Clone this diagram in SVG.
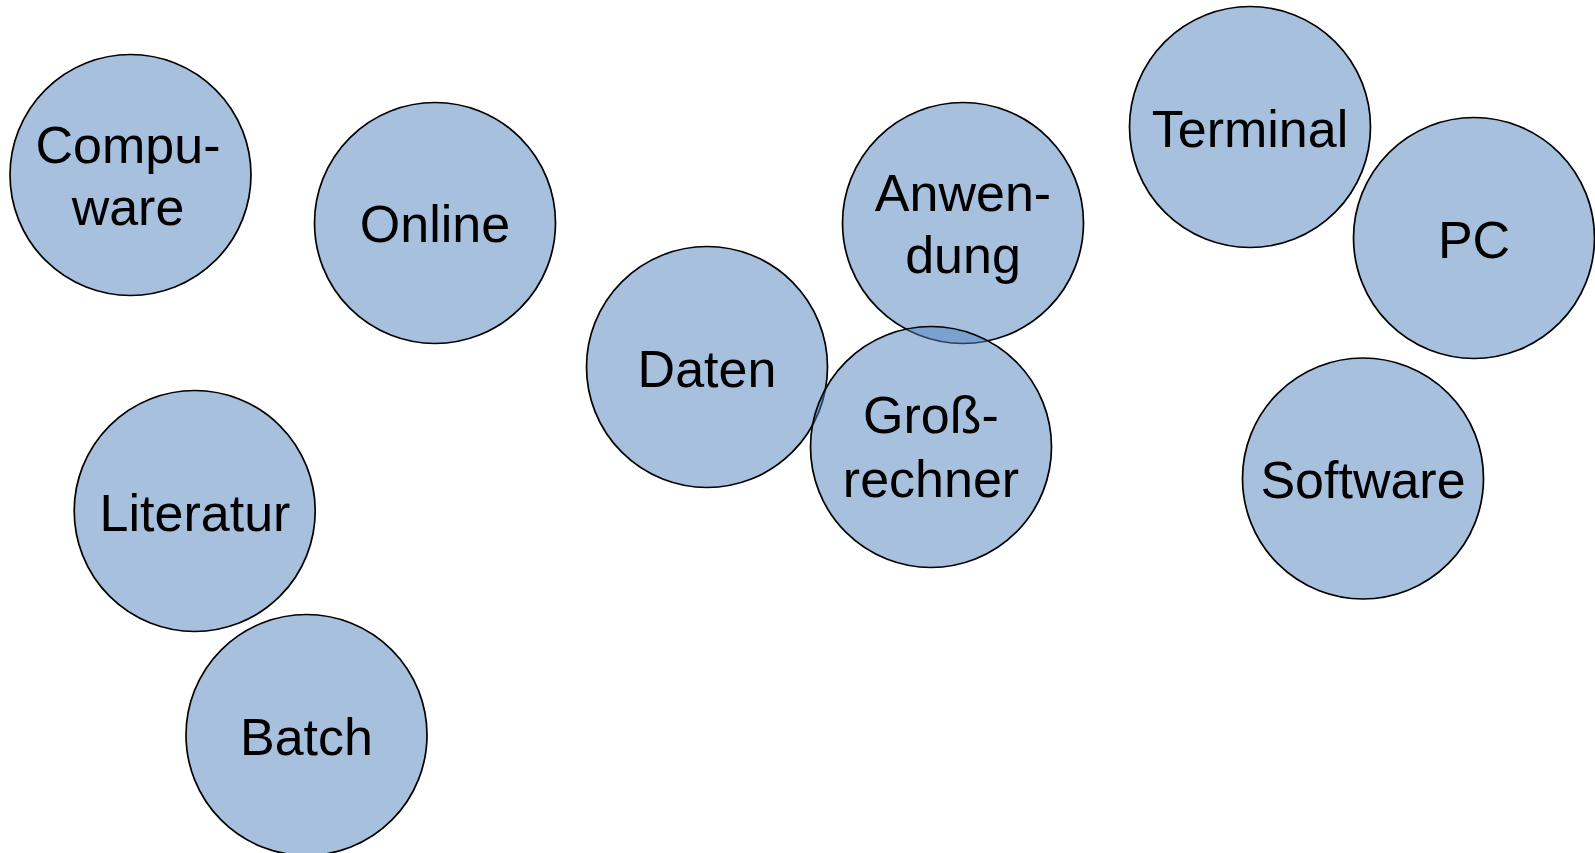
<svg xmlns="http://www.w3.org/2000/svg" width="1595" height="853" viewBox="0 0 1595 853">
<style>
.n circle{fill:#4F81BD;fill-opacity:0.5;stroke:#000;stroke-width:1.7}
.n text{font-family:"Liberation Sans",Arial,sans-serif;font-size:52px;fill:#000;text-anchor:middle}
</style>
<rect width="1595" height="853" fill="#fff"/>
<g id="connectors"/>
<g id="compuware" class="n"><circle cx="130.5" cy="175" r="120.5"/><text x="128" y="163">Compu-</text><text x="128" y="225">ware</text></g>
<g id="online" class="n"><circle cx="435" cy="223" r="120.5"/><text x="435" y="242">Online</text></g>
<g id="daten" class="n"><circle cx="707" cy="367" r="120.5"/><text x="707" y="387">Daten</text></g>
<g id="anwendung" class="n"><circle cx="963" cy="223" r="120.5"/><text x="963" y="211">Anwen-</text><text x="963" y="273">dung</text></g>
<g id="grossrechner" class="n"><circle cx="931" cy="447" r="120.5"/><text x="931" y="433">Groß-</text><text x="931" y="497">rechner</text></g>
<g id="terminal" class="n"><circle cx="1250" cy="127" r="120.5"/><text x="1250" y="147">Terminal</text></g>
<g id="pc" class="n"><circle cx="1474" cy="238" r="120.5"/><text x="1474" y="258">PC</text></g>
<g id="software" class="n"><circle cx="1363" cy="478.5" r="120.5"/><text x="1363" y="498">Software</text></g>
<g id="literatur" class="n"><circle cx="194.7" cy="511" r="120.5"/><text x="195" y="531">Literatur</text></g>
<g id="batch" class="n"><circle cx="306.5" cy="735" r="120.5"/><text x="306.5" y="755">Batch</text></g>
</svg>
